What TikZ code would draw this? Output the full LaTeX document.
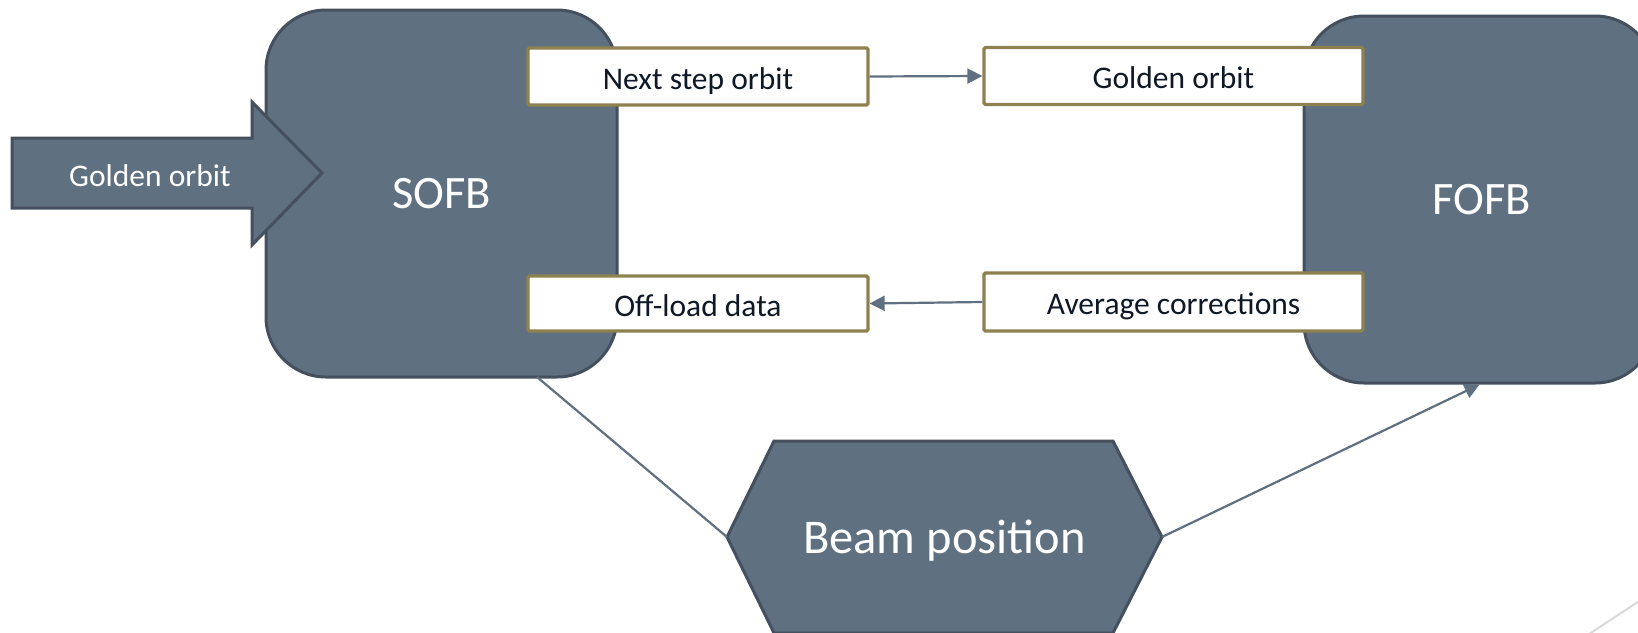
\documentclass[tikz,border=0pt]{standalone}
\usepackage{fontspec}
\setmainfont{Carlito}
\usetikzlibrary{arrows.meta,calc}
\definecolor{slate}{RGB}{95,112,128}
\definecolor{slateedge}{RGB}{68,80,94}
\definecolor{olive}{RGB}{142,129,80}
\definecolor{navy}{RGB}{14,24,38}
\definecolor{faint}{RGB}{217,217,217}
\tikzset{
  bigblock/.style={draw=slateedge, fill=slate, line width=3pt, rounded corners=60pt,
    minimum width=351pt, minimum height=367pt, text=white, font=\fontsize{46.5}{50}\selectfont},
  databox/.style={draw=olive, fill=white, line width=3.3pt, rounded corners=1.5pt,
    minimum height=57pt, text=navy, font=\fontsize{31.5}{34}\selectfont, inner sep=0pt,
    text height=25pt, text depth=0pt},
  shapefill/.style={draw=slateedge, fill=slate, line width=3pt, line join=miter},
  conn/.style={draw=slate, line width=2.2pt},
  tip/.style={-{Triangle[length=15pt,width=15pt]}},
}
\begin{document}
\begin{tikzpicture}[x=1pt,y=-1pt]
\useasboundingbox (0,0) rectangle (1638,632);
\clip (0,0) rectangle (1638,632);
\fill[white] (0,0) rectangle (1638,632);

% big blocks
\node[bigblock] (sofb) at (441.5,193.5) {SOFB};
\node[bigblock] (fofb) at (1479.5,199.5) {\hspace{4pt}FOFB};

% input arrow
\coordinate (gtip) at (322,173);
\draw[shapefill] (12,138) -- (252,138) -- (252,102) -- (gtip) -- (252,245) -- (252,208) -- (12,208) -- cycle;
\node[text=white, font=\fontsize{31.5}{34}\selectfont] (gtext) at (150,176) {Golden orbit};

% data boxes
\node[databox, minimum width=340pt] (next) at (698,76.5) {Next step orbit};
\node[databox, minimum width=379pt] (golden) at (1173.5,76) {Golden orbit};
\node[databox, minimum width=340pt, minimum height=55pt] (off) at (698,303.5) {Off-load data};
\node[databox, minimum width=379pt, minimum height=58pt] (avg) at (1173.5,302) {Average corrections};

\draw[conn,tip] (next.east) -- (golden.west);
\draw[conn,tip] (avg.west) -- (off.east);

% beam position hexagon
\coordinate (bpL) at (727,537);
\coordinate (bpR) at (1162,537);
\draw[shapefill] (774,441) -- (1113,441) -- (bpR) -- (1113,633) -- (774,633) -- (bpL) -- cycle;
\node[text=white, font=\fontsize{48.5}{52}\selectfont] (beam) at (944.5,541) {Beam position};

% connectors
\draw[conn] ($(sofb.south)+(95.5,-1.5)$) -- (bpL);
\draw[conn,tip] (bpR) -- (fofb.south);

% faint decoration line
\coordinate (d1) at (1580,640);
\coordinate (d2) at (1650,594);
\draw[faint, line width=2pt] (d1) -- (d2);
\end{tikzpicture}
\end{document}
